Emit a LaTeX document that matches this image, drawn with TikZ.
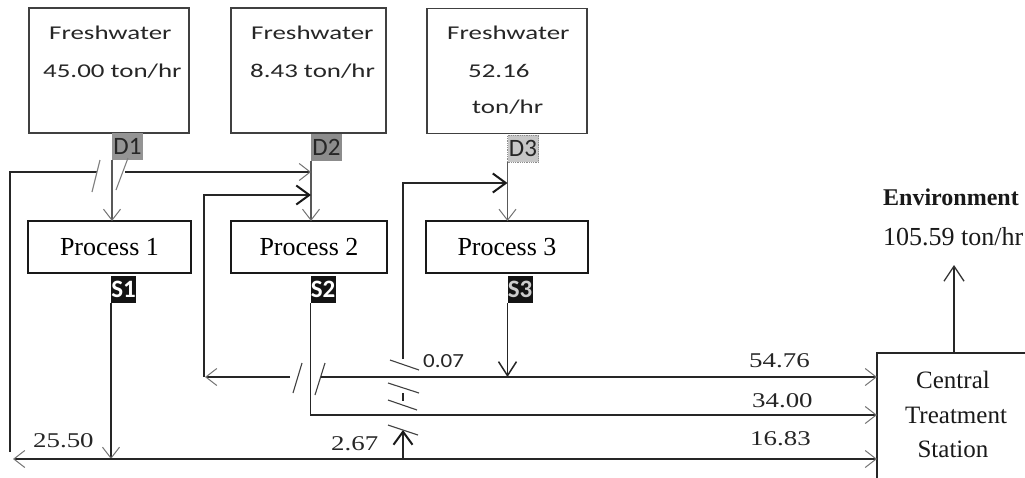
\documentclass[tikz,border=0pt]{standalone}
\usepackage{fontspec}
\setmainfont{Liberation Serif}
\newfontfamily\fwfont[FakeStretch=1.38]{Carlito}
\newfontfamily\lblfont{Carlito}
\newfontfamily\numfont[FakeStretch=1.28]{Liberation Serif}
\newfontfamily\sansnum[FakeStretch=1.15]{Carlito}
\usetikzlibrary{arrows.meta,calc}
\begin{document}
\begin{tikzpicture}[x=1pt,y=-1pt,
  fwbox/.style={draw=black!75,line width=1.3pt,inner sep=0pt,outer sep=0pt,minimum height=125pt},
  procbox/.style={draw=black!90,line width=1.8pt,inner sep=0pt,outer sep=0pt,minimum height=52pt,font=\fontsize{26}{30}\selectfont},
  dlabel/.style={anchor=north west,fill=black!42,minimum width=31pt,minimum height=27pt,inner sep=0pt,outer sep=0pt,font=\lblfont\fontsize{25}{26}\selectfont,text=black!85},
  slabel/.style={anchor=north west,fill=black!92,minimum width=25pt,minimum height=27pt,inner sep=0pt,outer sep=0pt,font=\lblfont\bfseries\fontsize{25}{26}\selectfont,text=white},
  fwtext/.style={anchor=base west,inner sep=0pt,font=\fwfont\fontsize{19.5}{22}\selectfont,text=black!85},
  num/.style={anchor=base west,inner sep=0pt,font=\numfont\fontsize{21}{24}\selectfont,text=black!85},
  serif/.style={anchor=base,inner sep=0pt,font=\fontsize{25}{28}\selectfont,text=black!90},
  flow/.style={draw=black!85,line width=1.5pt},
  dline/.style={draw=black!65,line width=1.1pt},
  cutmark/.style={draw=black!75,line width=1.1pt},
  thinhead/.style={-{Straight Barb[length=11pt,width=17pt,line width=1pt,color=black!55]}},
  twohead/.style={{Straight Barb[length=11pt,width=17pt,line width=1pt,color=black!55]}-{Straight Barb[length=11pt,width=17pt,line width=1pt,color=black!55]}},
  boldhead/.style={-{Straight Barb[length=13pt,width=19pt,line width=2pt,color=black!90]}},
  medhead/.style={-{Straight Barb[length=14pt,width=18pt,line width=1.5pt,color=black!85]}},
  envhead/.style={-{Straight Barb[length=15pt,width=20pt,line width=1.3pt,color=black!80]}}
]
\useasboundingbox (0,0) rectangle (1025,477);
\clip (0,0) rectangle (1025,477);

% freshwater boxes
\node[fwbox,minimum width=160pt] (fw1) at (109,70.5) {};
\node[fwbox,minimum width=155pt] (fw2) at (308.5,70.5) {};
\node[fwbox,minimum width=160pt] (fw3) at (507,71) {};
\node[fwtext] (fw1a) at (49,39.5) {Freshwater};
\node[fwtext] (fw1b) at (43,77) {45.00 ton/hr};
\node[fwtext] (fw2a) at (251,39.5) {Freshwater};
\node[fwtext] (fw2b) at (250,77) {8.43 ton/hr};
\node[fwtext] (fw3a) at (447,39.5) {Freshwater};
\node[fwtext] (fw3b) at (468,77) {52.16};
\node[fwtext] (fw3c) at (472,113) {ton/hr};

% D labels
\node[dlabel] (d1) at (112,133) {D1};
\node[dlabel,fill=black!45] (d2) at (311,134) {D2};
\node[dlabel,fill=black!22,draw=black!45,densely dotted,line width=0.8pt] (d3) at (507.5,135) {D3};

% process boxes
\node[procbox,minimum width=163pt] (p1) at (109.5,247) {Process 1};
\node[procbox,minimum width=156pt] (p2) at (309,247) {Process 2};
\node[procbox,minimum width=162pt] (p3) at (507,247) {Process 3};

% S labels
\node[slabel] (s1) at (111,276) {S1};
\node[slabel] (s2) at (310.5,276) {S2};
\node[slabel,text=black!20] (s3) at (507.5,276) {S3};

% central treatment station
\node[draw=black!85,line width=1.5pt,anchor=north west,inner sep=0pt,outer sep=0pt,minimum width=170pt,minimum height=140pt] (cts) at (877,353) {};
\node[serif] (ctsa) at (953,388) {Central};
\node[serif] (ctsb) at (956,423) {Treatment};
\node[serif] (ctsc) at (953,457) {Station};

% environment
\node[anchor=base west,inner sep=0pt,font=\bfseries\fontsize{24}{28}\selectfont,text=black!90] (env) at (883,205) {Environment};
\node[anchor=base west,inner sep=0pt,font=\fontsize{26}{30}\selectfont,text=black!90] (envq) at (883,245) {105.59 ton/hr};
\coordinate (ea) at (954,265);
\draw[flow,envhead] (cts.north -| ea) -- (ea);

% level coordinates
\coordinate (yA) at (0,172);
\coordinate (yB) at (0,195);
\coordinate (yC) at (0,183);
\coordinate (y1) at (0,377);
\coordinate (y2) at (0,415);
\coordinate (y3) at (0,459);
\coordinate (xB) at (204,0);
\coordinate (xC) at (403,0);

% freshwater feeds
\draw[dline,thinhead] (d1.south west) -- (d1.south west |- p1.north);
\draw[dline,thinhead] (d2.south west) -- (d2.south west |- p2.north);
\draw[dline,thinhead] (d3.south west) -- (d3.south west |- p3.north);

% recycle loop A (S1 -> P2)
\draw[flow] (10,452) -- (10,172) -- (97,172);
\draw[flow,thinhead] (125,172) -- (d2.west |- yA);
\draw[cutmark,draw=black!50] (92,192) -- (100,160);
\draw[cutmark,draw=black!50] (116,190) -- (128,158);

% S1 stream
\draw[flow,thinhead] (s1.south west) -- (s1.south west |- y3);
\draw[flow,twohead] (13,459) -- (cts.west |- y3);

% recycle loop B (S2 -> P2)
\draw[flow,thinhead] (290,377) -- (205,377);
\draw[flow,boldhead] (xB |- y1) -- (xB |- yB) -- (d2.west |- yB);
\draw[cutmark] (293,393) -- (302,363);
\draw[cutmark] (315,395) -- (325,363);

% top stream to CTS
\draw[flow,thinhead] (321,377) -- (cts.west |- y1);
\draw[flow,medhead] (s3.south west) -- (s3.south west |- y1);

% S2 stream to CTS
\draw[flow,thinhead] (s2.south west) -- (s2.south west |- y2) -- (cts.west |- y2);

% recycle loop C (-> P3)
\draw[flow,boldhead] (403,359) -- (xC |- yC) -- (d3.west |- yC);
\draw[flow] (403,393) -- (403,401);
\draw[flow,boldhead] (xC |- y3) -- (403,430);
\draw[cutmark] (390,360) -- (419,370);
\draw[cutmark] (388,383) -- (419,393);
\draw[cutmark] (388,400) -- (417,410);
\draw[cutmark] (388,425) -- (418,435);

% flow values
\node[num] (v1) at (749,367) {54.76};
\node[num] (v2) at (752,407) {34.00};
\node[num] (v3) at (750,445) {16.83};
\node[num] (v4) at (33,447) {25.50};
\node[num] (v5) at (331,450) {2.67};
\node[anchor=base west,inner sep=0pt,font=\sansnum\fontsize{20}{24}\selectfont,text=black!85] (v6) at (423,367) {0.07};
\end{tikzpicture}
\end{document}
